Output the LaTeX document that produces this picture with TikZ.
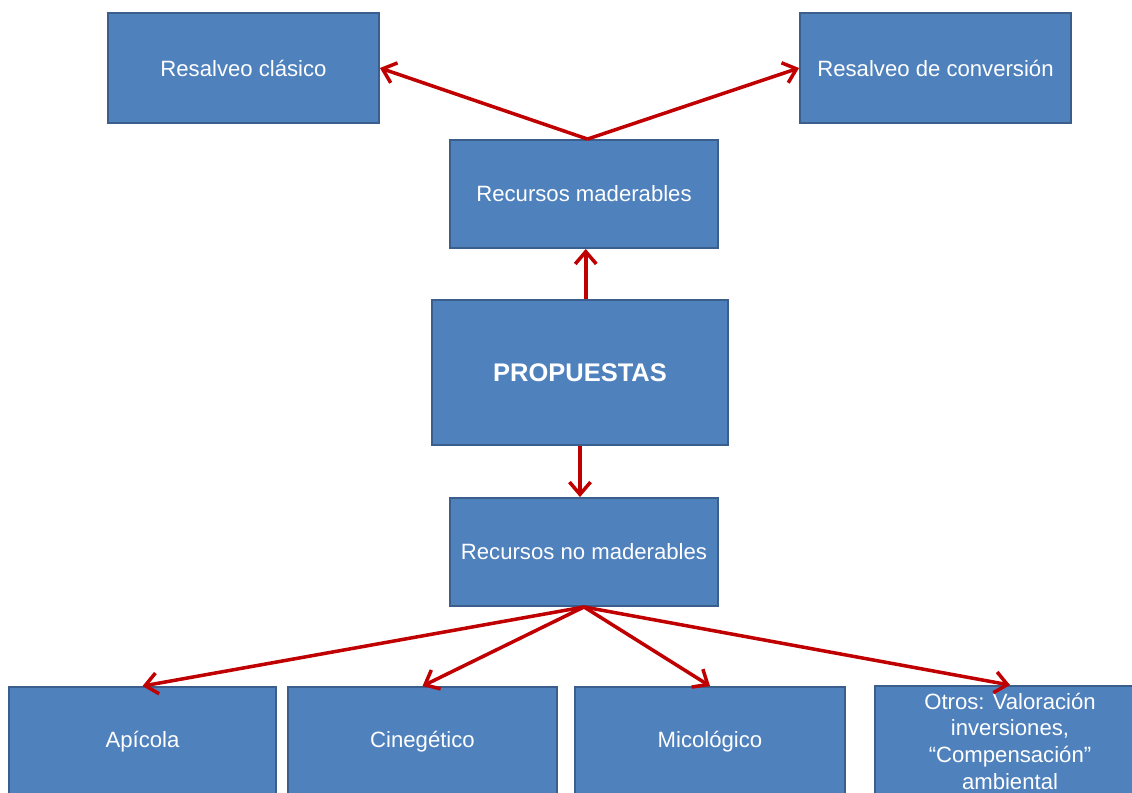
\documentclass[tikz,border=0pt]{standalone}
\usepackage{fontspec}
\setmainfont{Liberation Sans}
\usetikzlibrary{arrows.meta}

\definecolor{cajaazul}{HTML}{4F81BD}
\definecolor{bordeazul}{HTML}{3A5F8C}
\definecolor{rojoflecha}{HTML}{C00000}

\tikzset{
  caja/.style={
    draw=bordeazul,
    line width=1.1pt,
    fill=cajaazul,
    text=white,
    align=center,
    inner sep=0pt,
    font=\fontsize{12.6}{14.6}\selectfont
  },
  flecha/.style={
    rojoflecha,
    line width=2pt,
    -{Straight Barb[length=7pt,width=12pt]}
  }
}

\begin{document}
\begin{tikzpicture}[x=0.02cm,y=-0.02cm]

  % Marco de la figura
  \useasboundingbox (0,0) rectangle (1132,792);
  \clip (0,0) rectangle (1132,792);

  % Cajas superiores
  \node[caja, minimum width=5.42cm, minimum height=2.2cm]
    (resclasico) at (243.5,68) {Resalveo clásico};

  \node[caja, minimum width=5.42cm, minimum height=2.2cm]
    (resconv) at (935.5,68) {Resalveo de conversión};

  \node[caja, minimum width=5.36cm, minimum height=2.16cm]
    (madera) at (584,194) {Recursos maderables};

  % Caja central
  \node[caja, minimum width=5.92cm, minimum height=2.9cm,
        font=\fontsize{14.5}{16}\selectfont\bfseries]
    (propuestas) at (580,372.5) {PROPUESTAS};

  \node[caja, minimum width=5.36cm, minimum height=2.16cm]
    (nomadera) at (584,552) {Recursos no maderables};

  % Cajas inferiores
  \node[caja, minimum width=5.34cm, minimum height=2.2cm]
    (apicola) at (142.5,742) {Apícola};

  \node[caja, minimum width=5.38cm, minimum height=2.2cm]
    (cinegetico) at (422.5,742) {Cinegético};

  \node[caja, minimum width=5.4cm, minimum height=2.2cm]
    (micologico) at (710,742) {Micológico};

  \node[caja, minimum width=5.4cm, minimum height=2.2cm,
        font=\fontsize{12.6}{15.2}\selectfont]
    (otros) at (1010,741)
    {Otros: Valoración\\inversiones,\\“Compensación”\\ambiental};

  % Flechas
  \draw[flecha] ([xshift=2pt]madera.north) -- (resclasico.east);
  \draw[flecha] ([xshift=2pt]madera.north) -- (resconv.west);

  \draw[flecha] ([xshift=1pt]madera.south |- propuestas.north)
    -- ([xshift=1pt]madera.south);
  \draw[flecha] (propuestas.south) -- (propuestas.south |- nomadera.north);

  \draw[flecha] (nomadera.south) -- (apicola.north);
  \draw[flecha] (nomadera.south) -- (cinegetico.north);
  \draw[flecha] (nomadera.south) -- (micologico.north);
  \draw[flecha] (nomadera.south) -- (otros.north);

\end{tikzpicture}
\end{document}
